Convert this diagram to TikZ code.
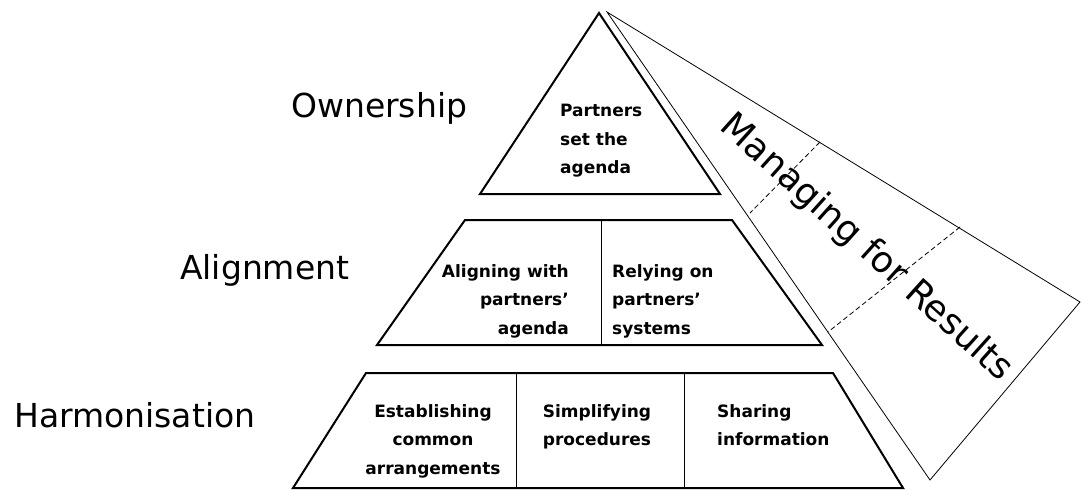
\documentclass[tikz,border=0pt]{standalone}
\usepackage{fontspec}
\setmainfont{DejaVu Sans}
\usetikzlibrary{positioning}

\begin{document}
\begin{tikzpicture}[x=1pt,y=-1pt,
  tier/.style={line width=2pt, line join=miter},
  band/.style={line width=0.8pt},
  cell/.style={font=\bfseries\fontsize{17}{28.5}\selectfont, inner sep=0pt},
  tierlabel/.style={font=\fontsize{33}{40}\selectfont, inner sep=0pt, anchor=base west}]

\useasboundingbox (0,0) rectangle (1082,490);

%%% band
\draw[band] (607,12) --(1080,302) --(930,480) --cycle;
\draw[band, dash pattern=on 5pt off 3pt] (820,142) --(750,213);
\draw[band, dash pattern=on 5pt off 3pt] (960,227) --(828,332);
\node[font=\fontsize{36}{40}\selectfont, rotate=-42, inner sep=0pt] (results) at (866,248) {Managing for Results};
%%%

%% pyramid
\draw[tier] (599,13) --(720,194) --(480,194) --cycle;
\draw[tier] (465,220) --(732,220) --(822,345) --(377,345) --cycle;
\draw[tier] (366,373) --(833,373) --(903,488) --(293,488) --cycle;

%% dividers
\draw[band] (601,220) --(601,345);
\draw[band] (516,373) --(516,488);
\draw[band] (684,373) --(684,488);

%% cells
\node[cell, anchor=north west, align=left] (agenda) at (560,104) {Partners\\set the\\agenda};
\node[cell, anchor=north east, align=right] (aligning) at (569,264) {Aligning with\\partners'\\agenda};
\node[cell, anchor=north west, align=left] (relying) at (612,264) {Relying on\\partners'\\systems};
\node[cell, anchor=north, align=center] (establishing) at (433,404) {Establishing\\common\\arrangements};
\node[cell, anchor=north, align=center] (simplifying) at (597,404) {Simplifying\\procedures};
\node[cell, anchor=north west, align=left] (sharing) at (717,404) {Sharing\\information};

%% tier names
\node[tierlabel] (ownership) at (291,117) {Ownership};
\node[tierlabel] (alignment) at (180,279) {Alignment};
\node[tierlabel] (harmonisation) at (14,427) {Harmonisation};

\end{tikzpicture}
\end{document}
